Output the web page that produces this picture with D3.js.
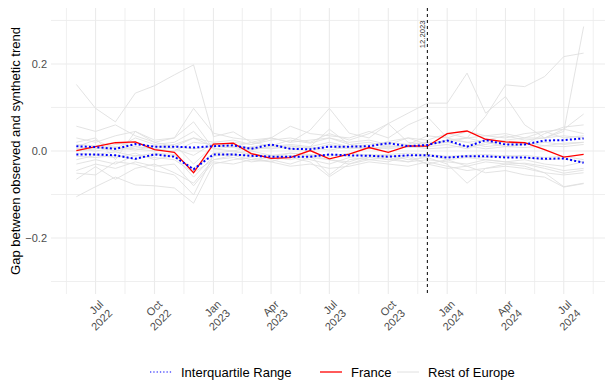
<!DOCTYPE html>
<html>
<head>
<meta charset="utf-8">
<script src="https://cdn.jsdelivr.net/npm/d3@7"></script>
<style>
  body { margin: 0; background: #fff; }
  svg { display: block; font-family: "Liberation Sans", Arial, sans-serif; }
</style>
</head>
<body>
<div id="root"><svg width="605" height="383"></svg></div>
<script>
const months = ['2022-06', '2022-07', '2022-08', '2022-09', '2022-10', '2022-11', '2022-12',
  '2023-01', '2023-02', '2023-03', '2023-04', '2023-05', '2023-06', '2023-07', '2023-08',
  '2023-09', '2023-10', '2023-11', '2023-12', '2024-01', '2024-02', '2024-03', '2024-04',
  '2024-05', '2024-06', '2024-07', '2024-08'];

const france = [0.001, 0.010, 0.019, 0.021, 0.003, -0.003, -0.050, 0.016, 0.018, -0.006,
  -0.017, -0.015, 0.001, -0.018, -0.007, 0.008, -0.003, 0.012, 0.011, 0.040, 0.046, 0.027,
  0.021, 0.019, 0.003, -0.014, -0.008];

const iqrUpper = [0.011, 0.009, 0.005, 0.016, 0.010, 0.010, 0.008, 0.011, 0.013, 0.005,
  0.015, 0.005, 0.004, 0.010, 0.010, 0.011, 0.018, 0.011, 0.014, 0.024, 0.010, 0.025,
  0.015, 0.015, 0.024, 0.025, 0.029];

const iqrLower = [-0.008, -0.008, -0.010, -0.018, -0.008, -0.013, -0.042, -0.008, -0.008,
  -0.011, -0.013, -0.013, -0.013, -0.008, -0.010, -0.011, -0.013, -0.010, -0.010, -0.015,
  -0.012, -0.012, -0.015, -0.015, -0.018, -0.017, -0.027];

const restOfEurope = [
  [0.153, 0.098, 0.067, 0.133, 0.150, 0.175, 0.198, 0.033, 0.044, 0.020, 0.012, 0.025, 0.018, 0.030, 0.015, 0.010, 0.022, 0.030, 0.015, 0.025, 0.020, 0.010, 0.015, 0.020, 0.012, 0.018, 0.020],
  [0.057, 0.045, 0.060, 0.035, 0.020, 0.030, 0.098, 0.041, 0.030, 0.025, 0.030, 0.057, 0.040, 0.035, 0.030, 0.045, 0.030, 0.060, 0.079, 0.030, 0.045, 0.035, 0.030, 0.040, 0.045, 0.030, 0.035],
  [0.020, 0.030, -0.020, 0.045, 0.025, 0.030, 0.067, 0.005, 0.010, 0.020, 0.030, 0.020, 0.048, 0.098, 0.041, 0.030, 0.063, 0.020, 0.015, 0.025, 0.030, 0.020, 0.020, 0.015, 0.040, 0.055, 0.060],
  [-0.105, -0.082, -0.060, -0.078, -0.080, -0.085, -0.120, -0.030, -0.020, -0.015, -0.025, -0.010, -0.020, -0.030, -0.015, -0.020, -0.025, -0.010, -0.030, -0.020, -0.035, -0.025, -0.030, -0.028, -0.035, -0.045, -0.040],
  [-0.065, -0.036, -0.065, -0.040, -0.030, -0.050, -0.074, -0.020, -0.010, -0.005, -0.015, -0.020, -0.010, -0.055, -0.020, -0.015, -0.010, -0.020, -0.015, -0.030, -0.074, -0.040, -0.030, -0.035, -0.050, -0.082, -0.074],
  [-0.051, -0.055, -0.025, -0.030, -0.045, -0.055, -0.101, -0.010, -0.005, 0.000, -0.010, -0.015, -0.025, -0.059, -0.030, -0.020, -0.015, -0.025, -0.020, -0.025, -0.030, -0.020, -0.025, -0.030, -0.040, -0.051, -0.044],
  [0.010, 0.005, 0.015, 0.020, 0.010, 0.015, 0.030, 0.010, 0.020, 0.015, 0.025, 0.030, 0.020, 0.040, 0.025, 0.040, 0.063, 0.087, 0.110, 0.110, 0.179, 0.087, 0.125, 0.060, 0.030, 0.050, 0.085],
  [0.005, 0.010, 0.000, 0.010, 0.005, 0.000, 0.020, 0.015, 0.010, 0.005, 0.010, 0.015, 0.010, 0.020, 0.010, 0.015, 0.020, 0.015, 0.020, 0.020, 0.030, 0.080, 0.152, 0.148, 0.171, 0.217, 0.225],
  [0.000, 0.005, 0.010, 0.005, 0.000, 0.010, 0.005, 0.010, 0.015, 0.005, 0.010, 0.005, 0.000, 0.010, 0.005, 0.010, 0.005, 0.010, 0.015, 0.020, 0.010, 0.015, 0.025, 0.030, 0.030, 0.045, 0.286],
  [-0.020, -0.010, -0.015, -0.005, -0.020, -0.010, -0.040, -0.005, -0.010, -0.020, -0.015, -0.005, -0.010, -0.020, -0.025, -0.010, -0.020, -0.015, -0.030, -0.040, -0.035, -0.050, -0.045, -0.055, -0.060, -0.083, -0.075],
  [0.030, 0.020, 0.035, 0.045, 0.020, 0.010, 0.030, 0.020, 0.025, 0.015, 0.030, 0.020, 0.025, 0.030, 0.020, 0.025, 0.015, 0.030, 0.025, 0.040, 0.030, 0.035, 0.040, 0.030, 0.045, 0.050, 0.040],
  [-0.030, -0.020, -0.030, -0.010, -0.015, -0.020, -0.050, -0.020, -0.015, -0.025, -0.020, -0.030, -0.015, -0.020, -0.030, -0.015, -0.020, -0.025, -0.010, -0.020, -0.015, -0.020, -0.025, -0.020, -0.030, -0.035, -0.025],
  [0.015, 0.012, 0.020, 0.010, 0.005, 0.015, -0.030, 0.012, 0.008, 0.002, 0.010, 0.012, 0.005, 0.015, 0.008, 0.005, 0.012, 0.008, 0.010, 0.015, 0.005, 0.020, 0.010, 0.015, 0.020, 0.015, 0.020],
  [-0.005, -0.008, -0.002, -0.012, -0.005, -0.008, -0.045, -0.005, 0.000, -0.008, -0.010, -0.005, -0.008, -0.012, -0.005, -0.010, -0.008, -0.005, -0.008, -0.012, -0.010, -0.008, -0.012, -0.010, -0.015, -0.012, -0.020],
  [0.005, 0.000, 0.008, 0.002, 0.012, 0.005, -0.010, 0.018, 0.012, 0.008, 0.005, 0.010, 0.008, 0.002, 0.010, 0.005, 0.008, 0.012, 0.005, 0.008, 0.012, 0.005, 0.010, 0.008, 0.012, 0.010, 0.015],
  [-0.012, -0.015, -0.010, -0.020, -0.008, -0.012, -0.060, -0.012, -0.008, -0.012, -0.015, -0.010, -0.012, -0.008, -0.012, -0.008, -0.012, -0.010, -0.012, -0.015, -0.012, -0.015, -0.010, -0.015, -0.020, -0.018, -0.025],
  [0.010, 0.025, 0.005, 0.030, 0.015, 0.020, 0.045, 0.005, 0.000, 0.010, 0.015, 0.005, 0.010, 0.050, 0.015, 0.020, 0.010, 0.015, 0.035, 0.030, 0.020, 0.025, 0.035, 0.025, 0.030, 0.035, 0.030],
  [-0.045, -0.030, -0.040, -0.025, -0.035, -0.030, -0.080, -0.025, -0.030, -0.020, -0.025, -0.035, -0.030, -0.040, -0.035, -0.025, -0.030, -0.035, -0.025, -0.035, -0.045, -0.040, -0.035, -0.040, -0.050, -0.055, -0.050]
];

const yTicks = [-0.2, 0, 0.2];
const xTicks = ['2022-07', '2022-10', '2023-01', '2023-04', '2023-07', '2023-10', '2024-01', '2024-04', '2024-07'];
const treatmentMonth = '2023-12';
const treatmentLabel = '12.2023';
const legendLabels = ['Interquartile Range', 'France', 'Rest of Europe'];
const yTitle = 'Gap between observed and synthetic trend';

function drawChart() {
  const panelLeft = 51;
  const panelRight = 609;
  const panelTop = 8;
  const panelBottom = 294;
  const yLimit = 0.3287;   // symmetric limits as in the original plot
  const gridColor = '#ebebeb';
  const restColor = '#e0e0e0';

  const svg = d3.select('#root svg');
  const parseMonth = d3.utcParse('%Y-%m');
  const dates = months.map(parseMonth);

  // ggplot style 5% expansion on the time axis
  const t0 = dates[0].getTime();
  const t1 = dates[dates.length - 1].getTime();
  const pad = (t1 - t0) * 0.05;
  const xScale = d3.scaleUtc()
    .domain([new Date(t0 - pad), new Date(t1 + pad)])
    .range([panelLeft, panelRight]);

  const yScale = d3.scaleLinear().domain([-yLimit, yLimit]).range([panelBottom, panelTop]);

  // grid
  const grid = svg.append('g').attr('class', 'grid');
  const yStep = yTicks[1] - yTicks[0];
  const yMinor = [yTicks[0] - yStep].concat(yTicks).map((d) => d + yStep / 2);
  yMinor.forEach((d) => {
    grid.append('line')
      .attr('x1', panelLeft).attr('x2', panelRight)
      .attr('y1', yScale(d)).attr('y2', yScale(d))
      .attr('stroke', gridColor).attr('stroke-width', 0.8);
  });
  yTicks.forEach((d) => {
    grid.append('line')
      .attr('x1', panelLeft).attr('x2', panelRight)
      .attr('y1', yScale(d)).attr('y2', yScale(d))
      .attr('stroke', gridColor).attr('stroke-width', 1.1);
  });

  const xTickDates = xTicks.map(parseMonth);
  const xExt = [d3.utcMonth.offset(xTickDates[0], -3)]
    .concat(xTickDates, [d3.utcMonth.offset(xTickDates[xTickDates.length - 1], 3)]);
  const xMinor = d3.pairs(xExt).map(([a, b]) => new Date((a.getTime() + b.getTime()) / 2));
  xMinor.forEach((d) => {
    grid.append('line')
      .attr('x1', xScale(d)).attr('x2', xScale(d))
      .attr('y1', panelTop).attr('y2', panelBottom)
      .attr('stroke', gridColor).attr('stroke-width', 0.8);
  });
  xTickDates.forEach((d) => {
    grid.append('line')
      .attr('x1', xScale(d)).attr('x2', xScale(d))
      .attr('y1', panelTop).attr('y2', panelBottom)
      .attr('stroke', gridColor).attr('stroke-width', 1.1);
  });

  // axes text
  const yAxisG = svg.append('g').attr('class', 'y-axis');
  yTicks.forEach((d) => {
    yAxisG.append('text')
      .attr('x', 47)
      .attr('y', yScale(d))
      .attr('dy', '0.35em')
      .attr('text-anchor', 'end')
      .attr('font-size', '11px')
      .attr('fill', '#4d4d4d')
      .text(d === 0 ? '0.0' : d3.format('.1f')(d));
  });

  svg.append('text')
    .attr('transform', `translate(20 ${(panelTop + panelBottom) / 2}) rotate(-90)`)
    .attr('text-anchor', 'middle')
    .attr('font-size', '13px')
    .attr('fill', '#000')
    .text(yTitle);

  const xAxisG = svg.append('g').attr('class', 'x-axis');
  xTickDates.forEach((d) => {
    const t = xAxisG.append('text')
      .attr('transform', `translate(${xScale(d) - 2.5} ${panelBottom}) rotate(-45)`)
      .attr('text-anchor', 'end')
      .attr('font-size', '11px')
      .attr('fill', '#4d4d4d');
    t.append('tspan').attr('x', 0).attr('y', 15.5).text(d3.utcFormat('%b')(d));
    t.append('tspan').attr('x', 0).attr('y', 28.2).text(d3.utcFormat('%Y')(d));
  });

  // lines
  const line = d3.line()
    .x((d, i) => xScale(dates[i]))
    .y((d) => yScale(d));

  const linesG = svg.append('g').attr('class', 'lines');
  linesG.selectAll('path.rest')
    .data(restOfEurope)
    .enter()
    .append('path')
    .attr('class', 'rest')
    .attr('d', line)
    .attr('fill', 'none')
    .attr('stroke', restColor)
    .attr('stroke-width', 0.9);

  linesG.append('path')
    .attr('d', line(france))
    .attr('fill', 'none')
    .attr('stroke', '#ff0000')
    .attr('stroke-width', 1.3);

  [iqrUpper, iqrLower].forEach((s) => {
    linesG.append('path')
      .attr('d', line(s))
      .attr('fill', 'none')
      .attr('stroke', '#0000ff')
      .attr('stroke-width', 2)
      .attr('stroke-dasharray', '2,2.2');
  });

  // treatment marker
  const tx = xScale(parseMonth(treatmentMonth));
  svg.append('line')
    .attr('x1', tx).attr('x2', tx)
    .attr('y1', panelTop).attr('y2', panelBottom)
    .attr('stroke', '#000')
    .attr('stroke-width', 1)
    .attr('stroke-dasharray', '3,3');
  svg.append('text')
    .attr('transform', `translate(${tx - 2.6} 20.5) rotate(-90)`)
    .attr('text-anchor', 'end')
    .attr('font-size', '7.7px')
    .attr('fill', '#333')
    .text(treatmentLabel);

  // legend
  const legendY = 372;
  const keyX = [150, 320, 397];
  const keyStyles = [
    { stroke: '#0000ff', width: 1.2, dash: '1.3,2' },
    { stroke: '#ff0000', width: 1.3, dash: null },
    { stroke: restColor, width: 1, dash: null }
  ];
  const legendG = svg.append('g').attr('class', 'legend');
  legendLabels.forEach((label, i) => {
    const k = keyStyles[i];
    legendG.append('line')
      .attr('x1', keyX[i]).attr('x2', keyX[i] + 22)
      .attr('y1', legendY).attr('y2', legendY)
      .attr('stroke', k.stroke)
      .attr('stroke-width', k.width)
      .attr('stroke-dasharray', k.dash);
    legendG.append('text')
      .attr('x', keyX[i] + 31)
      .attr('y', legendY)
      .attr('dy', '0.35em')
      .attr('font-size', '13px')
      .attr('fill', '#000')
      .text(label);
  });
}

window.addEventListener('load', function() {
  drawChart();
});
</script>
</body>
</html>
